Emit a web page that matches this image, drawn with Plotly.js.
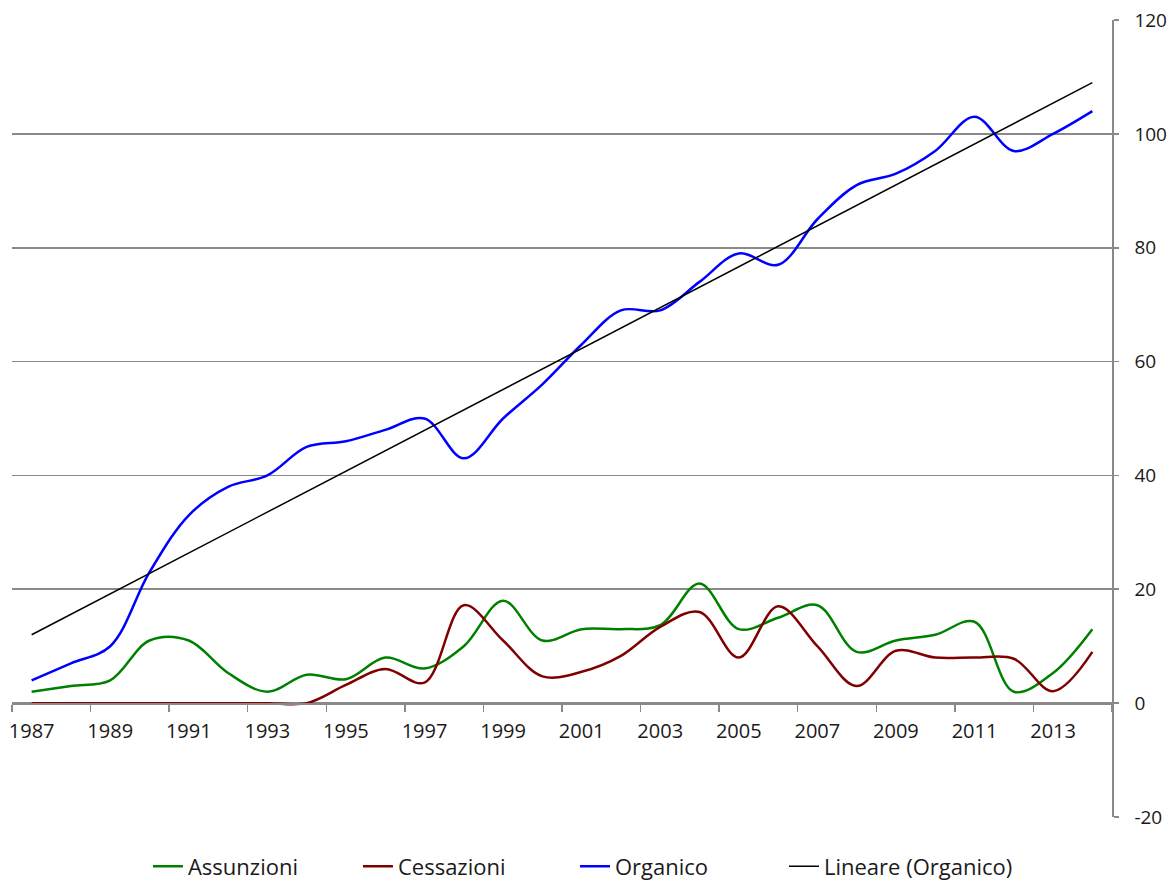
<!DOCTYPE html>
<html>
<head>
<meta charset="utf-8">
<script src="https://cdn.plot.ly/plotly-3.0.1.min.js"></script>
<style>html,body{margin:0;padding:0;background:#fff;}#chart{width:1175px;height:884px;}</style>
</head>
<body>
<div id="chart"></div>
<script>
const years = ["1987","1988","1989","1990","1991","1992","1993","1994","1995","1996","1997","1998","1999","2000","2001","2002","2003","2004","2005","2006","2007","2008","2009","2010","2011","2012","2013","2014"];
const assunzioni = [2,3,4,11,11,5.3,2,5,4.2,8,6.1,10,18,11,13,13,13.7,21,13,15,17.2,9,11,12,14.3,2,5.3,13];
const cessazioni = [0,0,0,0,0,0,0,0,3.2,6,3.6,17.2,11,4.7,5.5,8.3,13.4,16,8,17,10,3,9.2,8,8,7.8,2.1,9];
const organico = [4,7,10,23,33,38,40,45,46,48,50,43,50,56,63,69,69,74,79,77,85,91,93,97,103,97,100,104];
const yTickVals = [-20,0,20,40,60,80,100,120];
const yTickText = ["-20","0","20","40","60","80","100","120"];

// Linear trendline (least squares) of Organico, as in the original "Lineare (Organico)"
const n = organico.length;
const idx = organico.map((_, i) => i);
const mx = idx.reduce((a, b) => a + b, 0) / n;
const my = organico.reduce((a, b) => a + b, 0) / n;
let sxy = 0, sxx = 0;
idx.forEach((i) => { sxy += (i - mx) * (organico[i] - my); sxx += (i - mx) * (i - mx); });
const slope = sxy / sxx;
const icpt = my - slope * mx;
const trend = idx.map((i) => icpt + slope * i);

const fontFam = "'Century Gothic', 'Open Sans', sans-serif";
const axisGray = "#898989";
const legFont = {family: fontFam, size: 22, color: "#1a1a1a"};
function leg(xp) {
  return {orientation: "h", x: xp, xanchor: "left", y: -0.062, yanchor: "middle",
          font: legFont, bgcolor: "rgba(0,0,0,0)"};
}

const traces = [
  {x: years, y: assunzioni, name: "Assunzioni", type: "scatter", mode: "lines", legend: "legend",
   line: {color: "#008000", width: 2.5, shape: "spline", smoothing: 1}},
  {x: years, y: cessazioni, name: "Cessazioni", type: "scatter", mode: "lines", legend: "legend2",
   line: {color: "#800000", width: 2.5, shape: "spline", smoothing: 1}},
  {x: years, y: organico, name: "Organico", type: "scatter", mode: "lines", legend: "legend3",
   line: {color: "#0000FF", width: 2.5, shape: "spline", smoothing: 1}},
  {x: years, y: trend, name: "Lineare (Organico)", type: "scatter", mode: "lines", legend: "legend4",
   line: {color: "#000000", width: 1.5}}
];

const layout = {
  width: 1175, height: 884,
  margin: {l: 12, r: 63, t: 20, b: 67, autoexpand: false},
  paper_bgcolor: "#fff", plot_bgcolor: "#fff",
  font: {family: fontFam, size: 20, color: "#1a1a1a"},
  showlegend: true,
  legend: leg(0.1236), legend2: leg(0.3145), legend3: leg(0.5118), legend4: leg(0.7018),
  xaxis: {type: "category", range: [-0.5, 27.5], dtick: 2, tickson: "boundaries",
          tickangle: 0, automargin: false,
          ticks: "outside", ticklen: 7, tickcolor: axisGray, tickwidth: 1.5,
          showline: true, linecolor: axisGray, linewidth: 1.5, showgrid: false,
          anchor: "free", position: 20/140, zeroline: false, ticklabelstandoff: 9,
          tickfont: {family: fontFam, size: 20, color: "#1a1a1a"}},
  yaxis: {side: "right", range: [-20, 120], tickmode: "array", tickvals: yTickVals, ticktext: yTickText,
          automargin: false,
          showgrid: true, gridcolor: axisGray, gridwidth: 1.6,
          showline: true, linecolor: axisGray, linewidth: 1.6,
          ticks: "outside", ticklen: 5, tickcolor: axisGray, tickwidth: 1.6,
          ticklabelstandoff: 12, zeroline: false,
          tickfont: {family: fontFam, size: 19, color: "#1a1a1a"}}
};

Plotly.newPlot("chart", traces, layout, {displayModeBar: false, staticPlot: true});
</script>
</body>
</html>
